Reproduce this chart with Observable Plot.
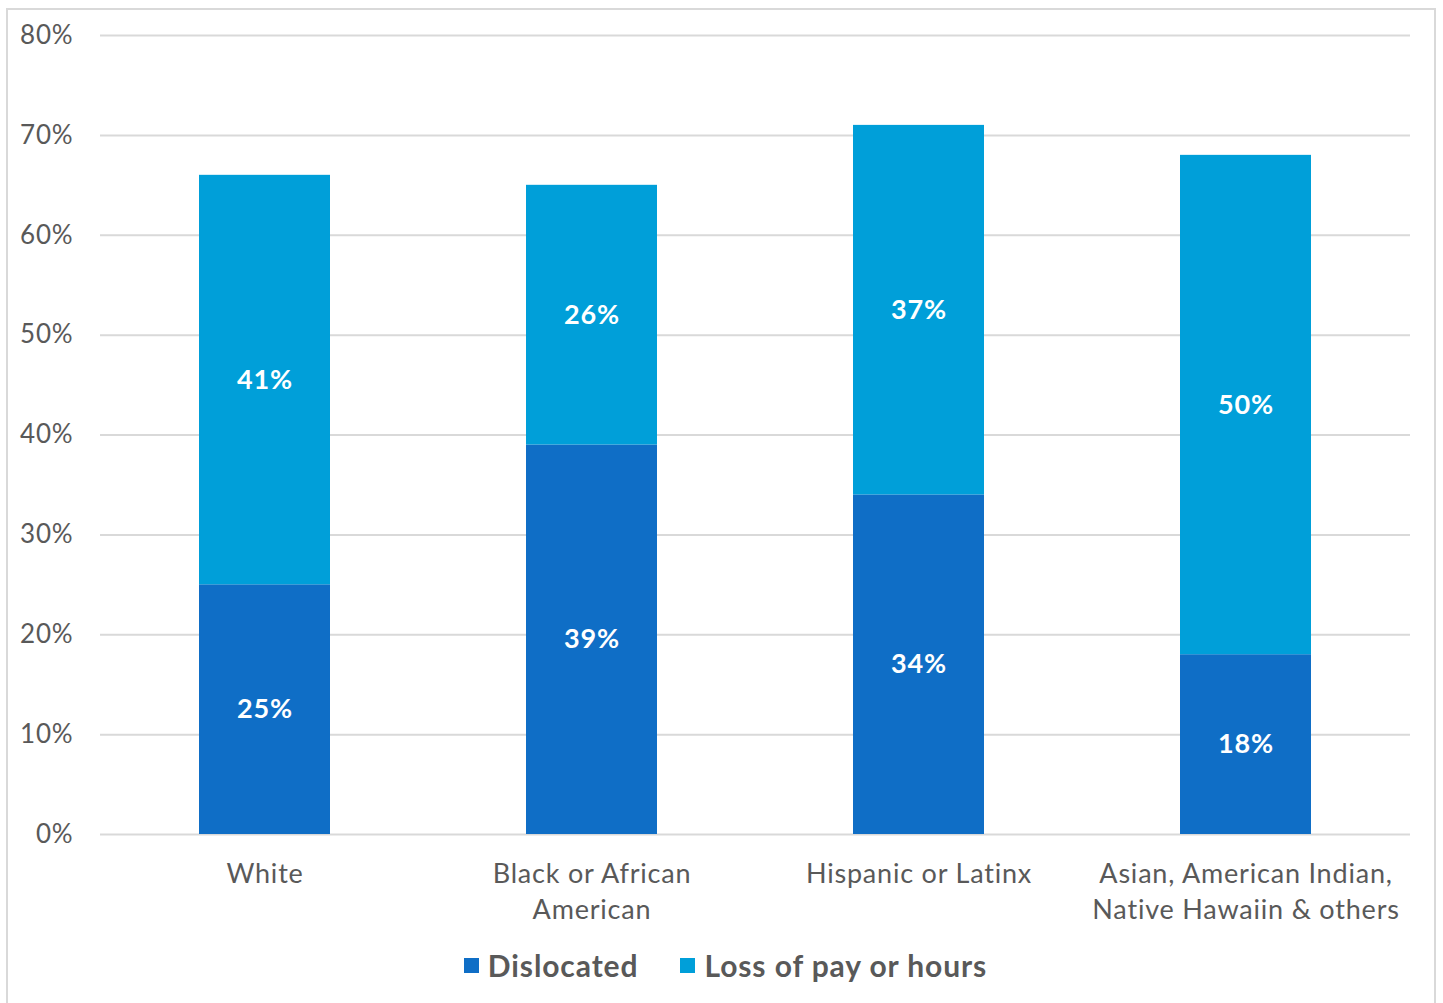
<!DOCTYPE html>
<html>
<head>
<meta charset="utf-8">
<script src="https://cdn.jsdelivr.net/npm/d3@7"></script>
<script src="https://cdn.jsdelivr.net/npm/@observablehq/plot@0.6"></script>
<style>
  html, body { margin: 0; padding: 0; background: #fff; }
  #wrap { position: relative; width: 1443px; height: 1003px; overflow: hidden; font-family: Lato, "Open Sans", sans-serif; }
  #frame { position: absolute; left: 6px; top: 8px; width: 1430px; height: 1010px; border: 2px solid #d9d9d9; box-sizing: border-box; }
  #chart { position: absolute; left: 0; top: 0; }
  #legend { position: absolute; left: 0; top: 947px; width: 1443px; display: flex; justify-content: center; align-items: center; gap: 42px; color: #595959; font-weight: bold; font-size: 30px; letter-spacing: 0.9px; padding-left: 8px; box-sizing: border-box; }
  .item { display: flex; align-items: center; gap: 9px; }
  .sw { width: 15px; height: 15px; display: inline-block; }
  #chart text { letter-spacing: 0.8px; }
</style>
</head>
<body>
<div id="wrap">
  <div id="frame"></div>
  <div id="chart"></div>
  <div id="legend"></div>
</div>
<script>
const categories = ["White", "Black or African\nAmerican", "Hispanic or Latinx", "Asian, American Indian,\nNative Hawaiin & others"];
const seriesNames = ["Dislocated", "Loss of pay or hours"];
const dislocated = [25, 39, 34, 18];
const lossOfPay = [41, 26, 37, 50];
const yTicks = [0, 10, 20, 30, 40, 50, 60, 70, 80];
const colors = ["#0F6EC6", "#009FD9"];

const data = [];
categories.forEach((c, i) => {
  data.push({cat: c, series: seriesNames[0], value: dislocated[i]});
  data.push({cat: c, series: seriesNames[1], value: lossOfPay[i]});
});

const plot = Plot.plot({
  width: 1443,
  height: 940,
  marginTop: 35,
  marginBottom: 106,
  marginLeft: 100,
  marginRight: 33,
  style: {fontFamily: "Lato, 'Open Sans', sans-serif", color: "#595959", background: "transparent"},
  x: {domain: categories, paddingInner: 0.6, paddingOuter: 0.3, label: null},
  y: {domain: [0, 80], label: null},
  color: {domain: seriesNames, range: colors},
  marks: [
    Plot.ruleY(yTicks, {stroke: "#d9d9d9", strokeWidth: 2}),
    Plot.barY(data, Plot.stackY({x: "cat", y: "value", fill: "series", order: seriesNames})),
    Plot.text(data, Plot.stackY({x: "cat", y: "value", z: "series", order: seriesNames, text: d => d.value + "%", fill: "white", fontWeight: "bold", fontSize: 27})),
    Plot.axisY({ticks: yTicks, tickFormat: d => d + "%", tickSize: 0, tickPadding: 27, fontSize: 26, fill: "#595959"}),
    Plot.axisX({tickSize: 0, tickPadding: 23, fontSize: 27, fill: "#595959", lineHeight: 1.33})
  ]
});
document.getElementById("chart").appendChild(plot);

const legend = document.getElementById("legend");
seriesNames.forEach((s, i) => {
  const item = document.createElement("div");
  item.className = "item";
  const sw = document.createElement("span");
  sw.className = "sw";
  sw.style.background = colors[i];
  const t = document.createElement("span");
  t.textContent = s;
  item.appendChild(sw);
  item.appendChild(t);
  legend.appendChild(item);
});
</script>
</body>
</html>
